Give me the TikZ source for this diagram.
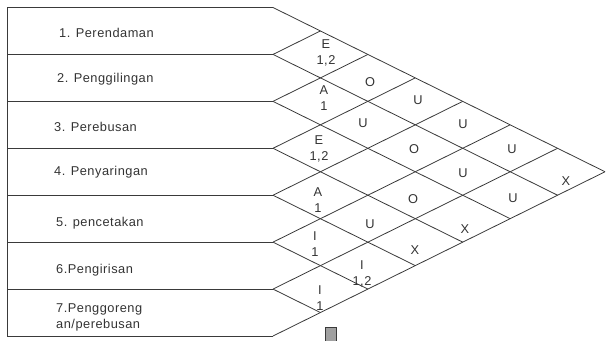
\documentclass[tikz,border=0pt]{standalone}
\usepackage{fontspec}
\setmainfont[LetterSpace=4]{Liberation Sans}
\definecolor{linec}{HTML}{3A3A3A}
\definecolor{txtc}{HTML}{333333}
\definecolor{boxc}{HTML}{A0A0A0}
\begin{document}
\begin{tikzpicture}[x=1pt,y=-1pt,
  ln/.style={draw=linec, line width=0.8pt},
  lbl/.style={text=txtc, font=\fontsize{12.8}{16}\selectfont, inner sep=0pt, align=center},
  rowlbl/.style={lbl, anchor=west, align=left}]
\useasboundingbox (0,0) rectangle (607,340);
% grid points
\foreach \k in {0,...,7} {
  \coordinate (P\k) at (273, {7.5+46.93*\k});
  \coordinate (L\k) at (7, {7.5+46.93*\k});
  \coordinate (Q\k) at ({273+47.43*(7-\k)}, {(7.5+46.93*\k+336)/2});
  \coordinate (R\k) at ({273+47.43*\k}, {(15+46.93*\k)/2});
}
% row frame
\draw[ln] (L0) -- (L7);
\foreach \k in {0,...,7} \draw[ln] (L\k) -- (P\k);
% diagonal grid
\foreach \k in {0,...,6} \draw[ln] (P\k) -- (Q\k);
\foreach \k in {1,...,7} \draw[ln] (P\k) -- (R\k);
% row labels
\node[rowlbl] (r1) at (59,33) {1. Perendaman};
\node[rowlbl] (r2) at (57,79) {2. Penggilingan};
\node[rowlbl] (r3) at (54,127) {3. Perebusan};
\node[rowlbl] (r4) at (54,172) {4. Penyaringan};
\node[rowlbl] (r5) at (56,223) {5. pencetakan};
\node[rowlbl] (r6) at (56,270) {6.Pengirisan};
\node[rowlbl] (r7) at (56,317) {7.Penggoreng\\an/perebusan};
% relationship labels
\node[lbl] (d12) at (326,53) {E\\1,2};
\node[lbl] (d13) at (370,82) {O};
\node[lbl] (d14) at (418,100) {U};
\node[lbl] (d15) at (463,124) {U};
\node[lbl] (d16) at (512,149) {U};
\node[lbl] (d17) at (566,181) {X};
\node[lbl] (d23) at (324,98) {A\\1};
\node[lbl] (d24) at (363,123) {U};
\node[lbl] (d25) at (414,149) {O};
\node[lbl] (d26) at (463,173) {U};
\node[lbl] (d27) at (513,198) {U};
\node[lbl] (d34) at (319,149) {E\\1,2};
\node[lbl] (d36) at (413,199) {O};
\node[lbl] (d37) at (465,229) {X};
\node[lbl] (d45) at (318,200) {A\\1};
\node[lbl] (d46) at (370,224) {U};
\node[lbl] (d47) at (415,250) {X};
\node[lbl] (d56) at (315,244) {I\\1};
\node[lbl] (d57) at (362,274) {I\\1,2};
\node[lbl] (d67) at (320,298) {I\\1};
% small gray box
\draw[draw=linec, fill=boxc, line width=0.8pt] (325,327.5) rectangle (336,342);
\end{tikzpicture}
\end{document}
